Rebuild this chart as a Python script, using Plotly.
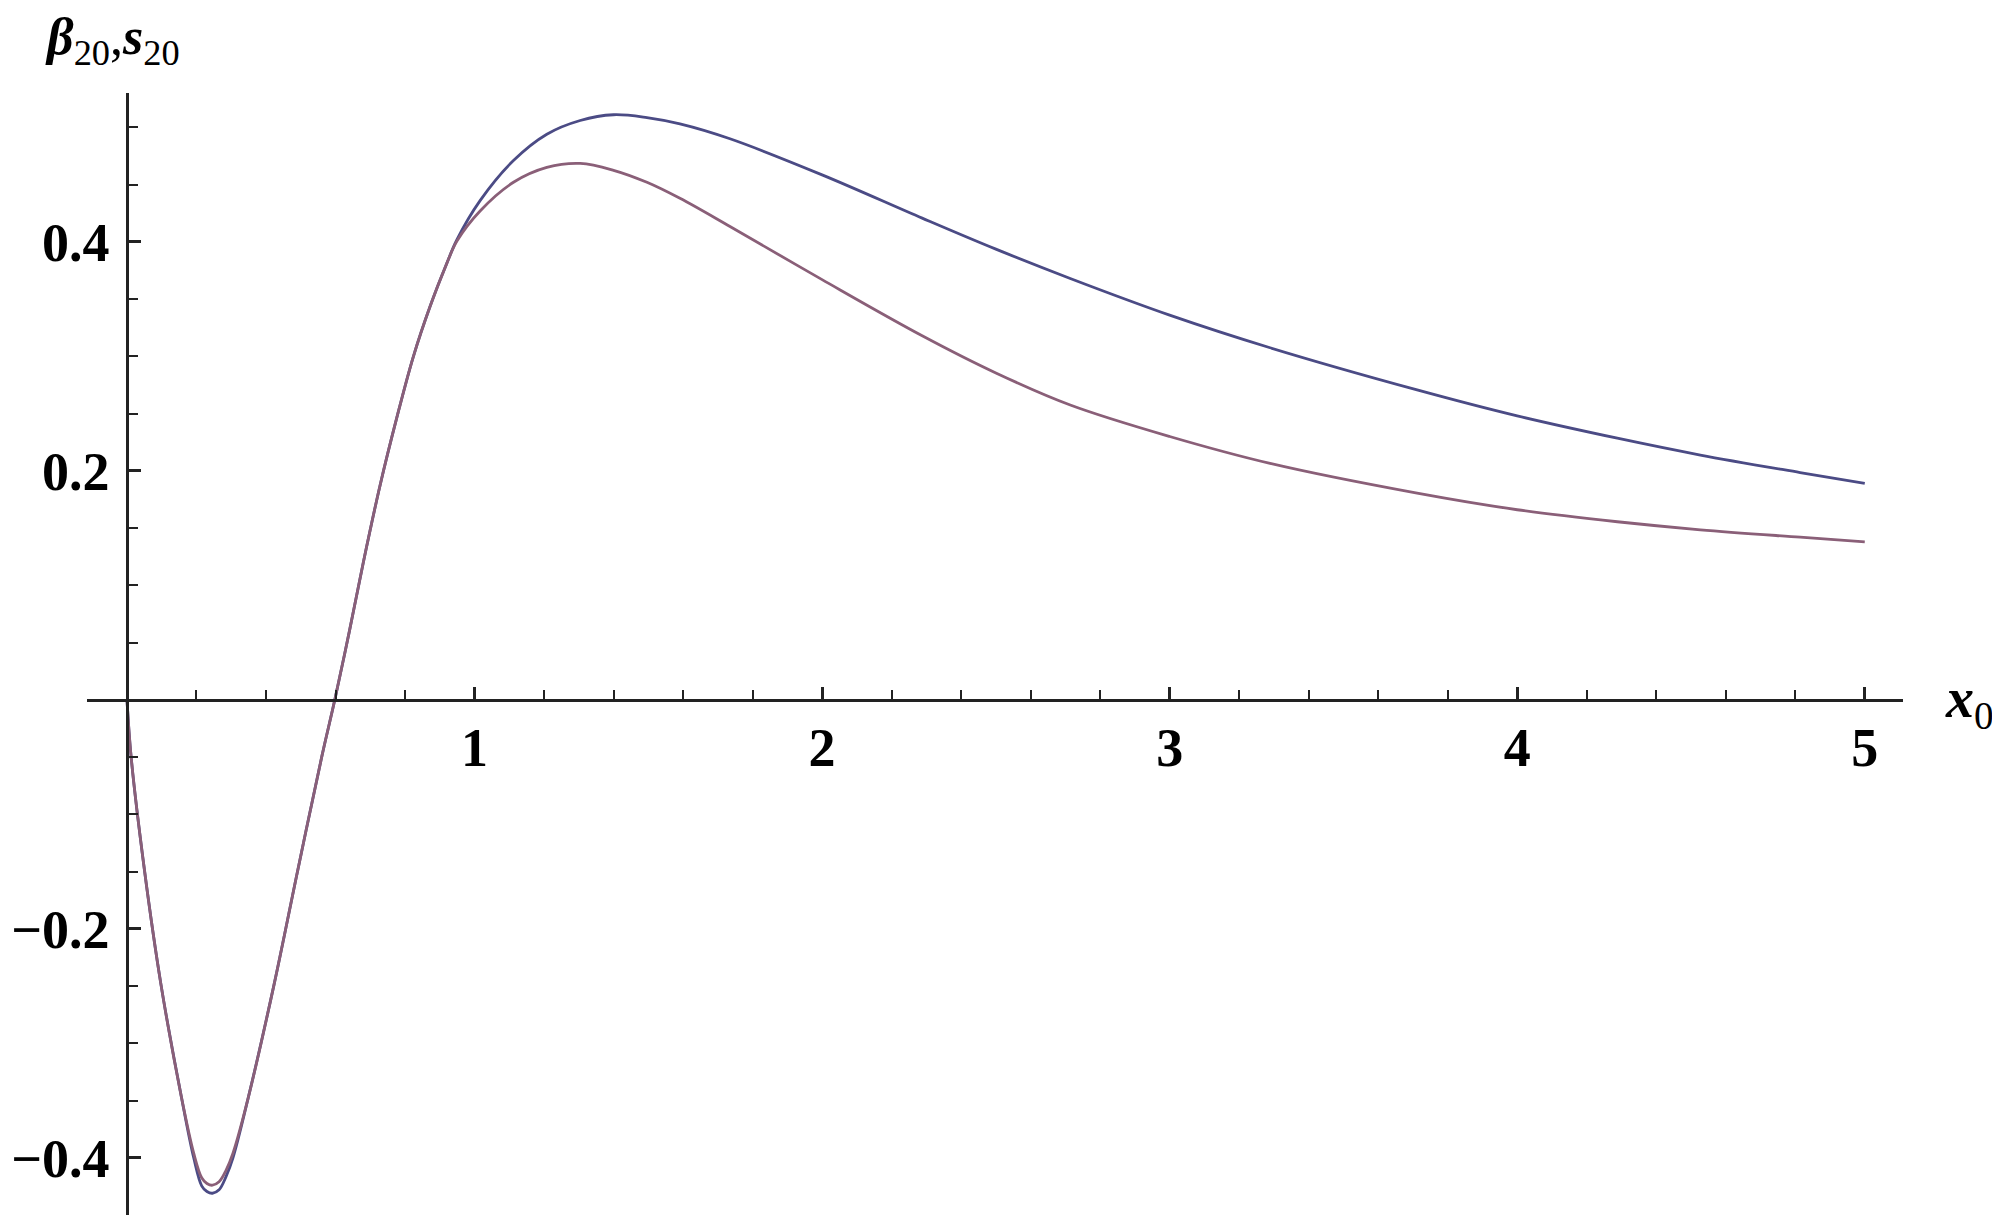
import plotly.graph_objects as go

# values
x0 = [0.0, 0.012, 0.05, 0.098, 0.157, 0.192, 0.215, 0.23, 0.246, 0.265, 0.285, 0.305, 0.349, 0.423,
      0.492, 0.561, 0.598, 0.64, 0.68, 0.728, 0.776, 0.824, 0.872, 0.92, 0.949, 1.016, 1.112, 1.208,
      1.304, 1.40, 1.496, 1.591, 1.735, 2.0, 2.288, 2.5, 2.714, 3.0, 3.289, 3.712, 4.0, 4.288,
      4.527, 4.814, 5.0]
beta20 = [0.0, -0.05, -0.148, -0.249, -0.3475, -0.40, -0.4245, -0.4295, -0.431, -0.428, -0.4165, -0.40,
          -0.3475, -0.249, -0.148, -0.049, 0.0, 0.06, 0.12, 0.187, 0.246, 0.2998, 0.3435, 0.381, 0.4017,
          0.436, 0.471, 0.494, 0.506, 0.511, 0.5085, 0.503, 0.490, 0.4585, 0.4207, 0.3936, 0.368, 0.336,
          0.3075, 0.2707, 0.248, 0.2285, 0.2138, 0.1985, 0.189]
s20 = [0.0, -0.05, -0.148, -0.249, -0.3475, -0.396, -0.4175, -0.4225, -0.424, -0.421, -0.411, -0.396,
       -0.3475, -0.249, -0.148, -0.049, 0.0, 0.06, 0.12, 0.187, 0.246, 0.2998, 0.3435, 0.381, 0.4005,
       0.427, 0.452, 0.465, 0.4685, 0.4625, 0.452, 0.438, 0.4134, 0.367, 0.318, 0.2855, 0.2575, 0.230,
       0.2065, 0.1805, 0.166, 0.1555, 0.1485, 0.142, 0.138]

x_ticks = [1, 2, 3, 4, 5]
x_labels = ["1", "2", "3", "4", "5"]
y_ticks = [-0.4, -0.2, 0.2, 0.4]
y_labels = ["\u22120.4", "\u22120.2", "0.2", "0.4"]
x_minor = [round(0.2 * i, 2) for i in range(1, 26)]
y_minor = [round(0.05 * i, 2) for i in range(-9, 11) if i != 0]

fig = go.Figure()
fig.add_trace(go.Scatter(x=x0, y=beta20, mode="lines",
                         line=dict(color="#4b4b85", width=2.8, shape="spline", smoothing=1.0)))
fig.add_trace(go.Scatter(x=x0, y=s20, mode="lines",
                         line=dict(color="#8a5f78", width=2.8, shape="spline", smoothing=1.0)))

tickfont = dict(family="Liberation Serif", size=54, color="black", weight="bold")
xr = [-0.115, 5.11]
yr = [-0.45, 0.53]

# page body has an 8px margin, so the figure is drawn 8px smaller
fig.update_layout(
    width=1992, height=1207,
    margin=dict(l=79, r=97, t=85, b=0),
    paper_bgcolor="white", plot_bgcolor="white",
    showlegend=False,
    xaxis=dict(range=xr, anchor="free", position=(0 - yr[0]) / (yr[1] - yr[0]),
               showgrid=False, zeroline=False, showline=True, linecolor="#222", linewidth=2.5,
               tickmode="array", tickvals=x_ticks, ticktext=x_labels, ticks="inside",
               ticklen=12, tickwidth=2.5, tickcolor="#222", tickfont=tickfont, ticklabelstandoff=0,
               minor=dict(tickmode="array", tickvals=x_minor, ticks="inside", ticklen=9,
                          tickwidth=2, tickcolor="#222", showgrid=False)),
    yaxis=dict(range=yr, anchor="free", position=(0 - xr[0]) / (xr[1] - xr[0]),
               showgrid=False, zeroline=False, showline=True, linecolor="#222", linewidth=2.5,
               tickmode="array", tickvals=y_ticks, ticktext=y_labels, ticks="inside",
               ticklen=12, tickwidth=2.5, tickcolor="#222", tickfont=tickfont, ticklabelstandoff=6,
               minor=dict(tickmode="array", tickvals=y_minor, ticks="inside", ticklen=9,
                          tickwidth=2, tickcolor="#222", showgrid=False)),
)

fig.add_annotation(x=-0.0242, y=1.047, xref="paper", yref="paper", xanchor="left", yanchor="middle",
                   showarrow=False,
                   text="<b><i>\u03b2</i></b><sub>20</sub>,<b><i>s</i></b><sub>20</sub>",
                   font=dict(family="Liberation Serif", size=52, color="black"))
fig.add_annotation(x=1.022, y=0.457, xref="paper", yref="paper", xanchor="left", yanchor="middle",
                   showarrow=False,
                   text="<b><i>x</i></b><sub>0</sub>",
                   font=dict(family="Liberation Serif", size=56, color="black"))

fig.write_html("out.html")
